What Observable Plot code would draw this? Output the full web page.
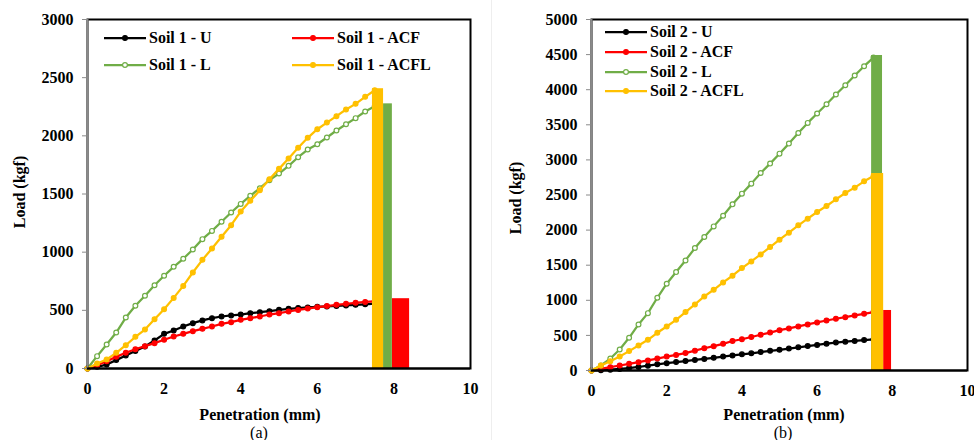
<!DOCTYPE html>
<html><head><meta charset="utf-8">
<script src="https://cdn.jsdelivr.net/npm/d3@7"></script>
<script src="https://cdn.jsdelivr.net/npm/@observablehq/plot@0.6"></script>
<style>
body{margin:0;background:#fff;}
#wrap{position:relative;width:974px;height:440px;overflow:hidden;font-family:'Liberation Serif','DejaVu Serif',serif;color:#000;background:#fff;}
#wrap svg text{font-family:'Liberation Serif','DejaVu Serif',serif;}
.panel{position:absolute;top:0;overflow:visible;}
.t{position:absolute;white-space:nowrap;font-weight:bold;font-size:16px;transform:translate(-50%,-50%);line-height:1;font-family:'Liberation Serif','DejaVu Serif',serif;}
.rot{transform:translate(-50%,-50%) rotate(-90deg);}
.cap{font-weight:normal;}
.leg{position:absolute;display:flex;align-items:center;font-weight:bold;font-size:16px;white-space:nowrap;height:20px;line-height:1;font-family:'Liberation Serif','DejaVu Serif',serif;}
.leg svg{display:block;margin-right:3px;}
.sep{position:absolute;left:491px;top:0;width:1px;height:440px;background:#eeeeee;}
</style></head><body><div id="wrap"></div>
<script>
// ---- data ----
const penetration = [0,0.25,0.5,0.75,1,1.25,1.5,1.75,2,2.25,2.5,2.75,3,3.25,3.5,3.75,4,4.25,4.5,4.75,5,5.25,5.5,5.75,6,6.25,6.5,6.75,7,7.25,7.5];
const xTicks = [0,2,4,6,8,10];
const yTicks1 = [0,500,1000,1500,2000,2500,3000];
const yTicks2 = [0,500,1000,1500,2000,2500,3000,3500,4000,4500,5000];
const treatments = ["U","ACF","L","ACFL"];

const soil1U    = [0,14,34,72,112,150,190,241,298,327,361,390,413,433,447,456,464,476,484,493,504,513,520,525,530,534,538,542,547,552,557];
const soil1ACF  = [0,29,63,100,135,165,192,218,247,275,298,321,341,361,384,398,418,433,447,464,476,490,503,515,527,537,547,556,565,572,578];
const soil1L    = [0,106,206,309,438,539,625,716,797,874,943,1023,1112,1183,1261,1341,1415,1484,1550,1619,1676,1742,1816,1882,1928,1986,2046,2100,2152,2209,2255];
const soil1ACFL = [0,43,77,135,200,272,335,424,510,607,710,825,934,1031,1132,1232,1349,1441,1533,1627,1716,1805,1897,1983,2057,2114,2169,2226,2275,2335,2392];
// failure (drop-off) zone per treatment: start, end penetration and peak load
const soil1FailStart = [7.45,7.96,7.73,7.44];
const soil1FailEnd   = [7.50,8.41,7.96,7.73];
const soil1FailPeak  = [557,600,2275,2405];

const soil2U    = [0,5,12,22,35,50,68,88,105,120,135,150,165,180,198,214,230,245,262,280,295,313,330,348,365,382,398,410,422,433,442];
const soil2ACF  = [0,24,48,71,95,119,143,170,198,222,248,283,317,347,380,420,445,477,509,540,575,600,628,656,685,712,737,760,785,808,832];
const soil2L    = [0,71,170,300,466,656,817,1036,1236,1402,1568,1744,1901,2053,2205,2367,2519,2662,2814,2947,3089,3232,3384,3527,3660,3793,3931,4064,4202,4335,4458];
const soil2ACFL = [0,71,133,200,276,356,437,537,627,722,832,941,1055,1150,1255,1350,1459,1554,1654,1759,1863,1963,2068,2163,2258,2343,2438,2529,2605,2695,2771];
const soil2FailStart = [7.45,7.77,7.45,7.45];
const soil2FailEnd   = [7.50,7.98,7.74,7.77];
const soil2FailPeak  = [445,855,4487,2806];

// ---- styles ----
const colors = {U:"#000000", ACF:"#ff0000", L:"#70ad47", ACFL:"#ffc000"};
const hollow = {U:false, ACF:false, L:true, ACFL:false};
const FONT = "'Liberation Serif','DejaVu Serif',serif";

const wrap = document.getElementById("wrap");

function makePanel(opt) {
  const marks = [];
  treatments.forEach((t, i) => {
    const pts = penetration.map((x, j) => ({x, y: opt.values[i][j]}));
    marks.push(Plot.line(pts, {x:"x", y:"y", stroke: colors[t], strokeWidth: 2.25}));
    marks.push(Plot.dot(pts, {x:"x", y:"y", r: 2.4, fill: hollow[t] ? "white" : colors[t], stroke: colors[t], strokeWidth: 1.2}));
    marks.push(Plot.rect([{x1: opt.failStart[i], x2: opt.failEnd[i], y1: 0, y2: opt.failPeak[i]}],
      {x1:"x1", x2:"x2", y1:"y1", y2:"y2", fill: colors[t]}));
  });
  marks.push(Plot.frame({stroke:"black", strokeWidth:2}));
  marks.push(Plot.ruleX([0], {stroke:"#8a8a8a", strokeWidth:2}));
  marks.push(Plot.ruleY([0], {stroke:"black", strokeWidth:2}));
  marks.push(Plot.axisX({ticks: xTicks, tickSize: 0, tickPadding: 14, label: null, tickFormat: d => String(d)}));
  marks.push(Plot.axisY({ticks: opt.yTicks, tickSize: 5, tickPadding: 9, stroke: "#8a8a8a", fill: "black", label: null, tickFormat: d => String(d)}));
  const svg = Plot.plot({
    width: opt.width, height: 400,
    marginLeft: opt.ml, marginRight: opt.mr, marginTop: 19, marginBottom: opt.mb,
    style: {fontFamily: FONT, fontSize: "16px", fontWeight: "bold", background: "transparent", color: "black", overflow: "visible"},
    x: {domain: [0, 10]},
    y: {domain: opt.yDomain},
    marks
  });
  svg.classList.add("panel");
  svg.style.left = opt.left + "px";
  wrap.appendChild(svg);
}

makePanel({left:0, width:490, ml:87, mr:20, mb:32, yDomain:[0,3000], yTicks:yTicks1,
  values:[soil1U, soil1ACF, soil1L, soil1ACFL], failStart:soil1FailStart, failEnd:soil1FailEnd, failPeak:soil1FailPeak});
makePanel({left:490, width:484, ml:101, mr:7, mb:30, yDomain:[0,5000], yTicks:yTicks2,
  values:[soil2U, soil2ACF, soil2L, soil2ACFL], failStart:soil2FailStart, failEnd:soil2FailEnd, failPeak:soil2FailPeak});

const sep = document.createElement("div"); sep.className = "sep"; wrap.appendChild(sep);

function text(str, x, y, cls) {
  const d = document.createElement("div");
  d.className = "t " + (cls || "");
  d.textContent = str;
  d.style.left = x + "px"; d.style.top = y + "px";
  wrap.appendChild(d);
}
text("Penetration (mm)", 260, 415);
text("(a)", 259, 433, "cap");
text("Load (kgf)", 20, 192, "rot");
text("Penetration (mm)", 784, 415);
text("(b)", 783, 433, "cap");
text("Load (kgf)", 516, 198, "rot");

function legendItem(label, t, x, y) {
  const d = document.createElement("div");
  d.className = "leg";
  d.style.left = x + "px"; d.style.top = (y - 10) + "px";
  const c = colors[t];
  d.innerHTML = `<svg width="42" height="10"><line x1="0" y1="5" x2="42" y2="5" stroke="${c}" stroke-width="2.25"/>` +
    `<circle cx="21" cy="5" r="2.4" fill="${hollow[t] ? "white" : c}" stroke="${c}" stroke-width="1.2"/></svg><span>${label}</span>`;
  wrap.appendChild(d);
}
legendItem("Soil 1 - " + treatments[0], "U", 104, 38);
legendItem("Soil 1 - " + treatments[1], "ACF", 292, 38);
legendItem("Soil 1 - " + treatments[2], "L", 104, 65);
legendItem("Soil 1 - " + treatments[3], "ACFL", 292, 65);
legendItem("Soil 2 - " + treatments[0], "U", 605, 32);
legendItem("Soil 2 - " + treatments[1], "ACF", 605, 52);
legendItem("Soil 2 - " + treatments[2], "L", 605, 72);
legendItem("Soil 2 - " + treatments[3], "ACFL", 605, 91);
</script></body></html>
